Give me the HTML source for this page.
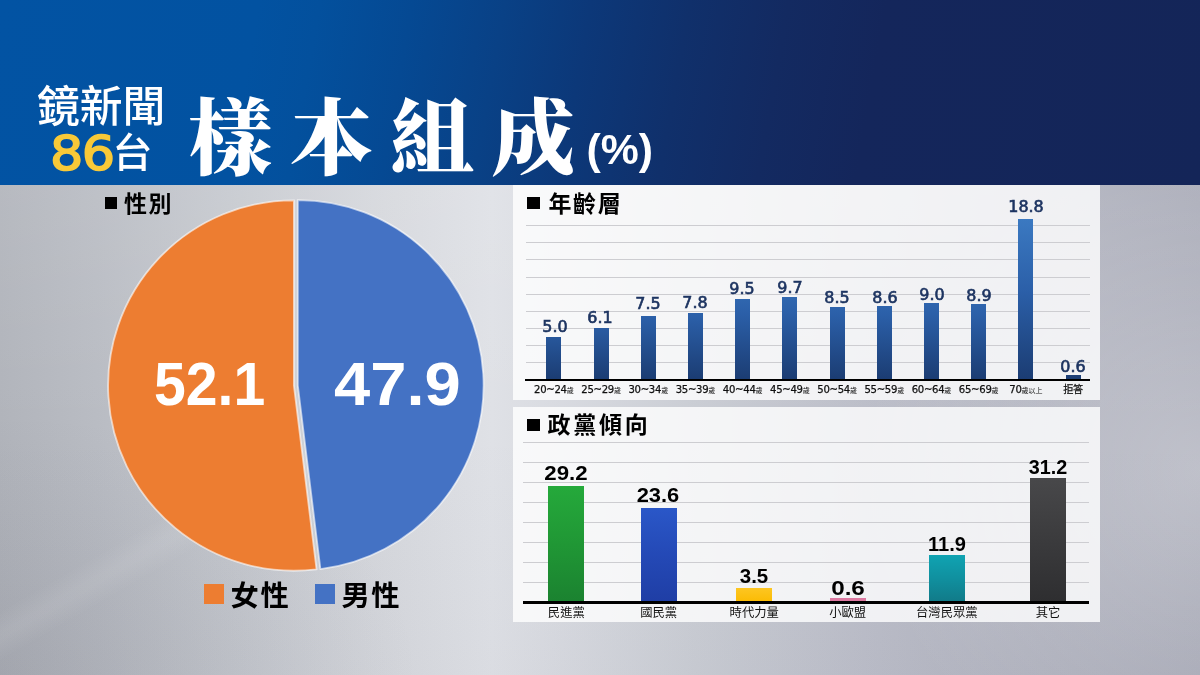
<!DOCTYPE html>
<html lang="zh-Hant">
<head>
<meta charset="utf-8">
<title>樣本組成</title>
<style>
*{margin:0;padding:0;box-sizing:border-box}
html,body{width:1200px;height:675px;overflow:hidden;background:#b4b7c4}
body{position:relative;font-family:"Liberation Sans","Noto Sans CJK TC",sans-serif;color:#000}
.abs{position:absolute}
#bg{left:0;top:0;width:1200px;height:675px;
 background:
  linear-gradient(150deg,rgba(255,255,255,0) 47.5%,rgba(255,255,255,.08) 52%,rgba(255,255,255,.08) 53.5%,rgba(255,255,255,0) 58%) 0 380px/330px 295px no-repeat,
  radial-gradient(ellipse 420px 260px at 0px 675px,rgba(90,92,105,.13) 0%,rgba(90,92,105,.05) 60%,rgba(90,92,105,0) 100%),
  radial-gradient(ellipse 340px 330px at 1200px 470px,rgba(255,255,255,.28) 0%,rgba(255,255,255,.13) 50%,rgba(255,255,255,0) 100%),
  linear-gradient(180deg,rgba(255,255,255,.08) 185px,rgba(255,255,255,0) 430px,rgba(70,72,95,.03) 675px),
  linear-gradient(90deg,#b1b4bb 0%,#b9bcc3 8%,#c7cad0 20%,#d6d8dd 32%,#dfe1e6 41%,#d9dbe1 46%,#cacdd4 58%,#bcbec9 72%,#afb1bd 88%,#a7a9b6 100%);}
#hdr{left:0;top:0;width:1200px;height:185px;background:linear-gradient(100deg,#0253a3 0%,#0252a1 21%,#03509d 26%,#054993 33.5%,#094186 41%,#0c3879 48%,#10306b 56%,#132a61 64%,#14265b 72%,#142558 100%);}
.logo1{left:37px;top:76.5px;font-size:42.8px;line-height:60px;color:#fff;font-weight:500;white-space:nowrap;font-family:"Liberation Sans","Noto Sans CJK TC",sans-serif}
.logo2{left:50.4px;top:123.9px;font-size:48.8px;line-height:60px;color:#f8c938;font-weight:400;white-space:nowrap;font-family:'DejaVu Sans',sans-serif;-webkit-text-stroke:1.6px #f8c938;transform:scaleX(1.075);transform-origin:0 0;letter-spacing:-1.5px}
.logo3{left:112.5px;top:123px;font-size:40px;line-height:60px;color:#fff;font-weight:500;white-space:nowrap;font-family:"Liberation Sans","Noto Sans CJK TC",sans-serif}
.title{left:188.6px;top:78px;font-size:83.5px;line-height:124px;color:#fff;font-weight:900;letter-spacing:17.5px;white-space:nowrap;font-family:"Liberation Serif","Noto Serif CJK SC",serif}
.pct{left:586.5px;top:120.6px;font-size:42.8px;line-height:56px;color:#fff;font-weight:700;white-space:nowrap}
.panel{background:rgba(255,255,255,.8)}
.sq{background:#000}
.h{font-family:"Liberation Sans","Noto Sans CJK TC",sans-serif;font-weight:700;font-size:23px;letter-spacing:1.6px;line-height:30px;white-space:nowrap;color:#000}
.gl{height:1.2px;background:#cdcdd1}
.bl{height:2px;background:#000}
.bar1{width:15px;background:linear-gradient(180deg,#3b79c1 0%,#2b5fa8 45%,#1b3c72 100%) bottom/100% 100% no-repeat}
.v1{font-family:'DejaVu Sans',sans-serif;font-size:15.2px;line-height:18px;font-weight:400;-webkit-text-stroke:0.6px #1d3461;color:#1d3461;transform:scaleX(1.05);text-align:center;width:60px;white-space:nowrap}
.x1{font-family:'DejaVu Sans','Liberation Sans','Noto Sans CJK TC',sans-serif;font-size:10.1px;line-height:12px;color:#111;-webkit-text-stroke:.25px #111;letter-spacing:-.3px;text-align:center;width:60px;white-space:nowrap}
.x1 small{font-size:7px;-webkit-text-stroke:0;letter-spacing:0;font-family:"Liberation Sans","Noto Sans CJK TC",sans-serif}
.v2{font-size:19.7px;line-height:22px;font-weight:700;color:#000;text-align:center;width:80px;white-space:nowrap;transform:scaleX(1.13)}
.x2{font-size:12.3px;line-height:16px;color:#111;text-align:center;width:100px;white-space:nowrap;font-family:"Liberation Sans","Noto Sans CJK TC",sans-serif}
.big{transform-origin:0 0;font-size:61.2px;line-height:70px;font-weight:700;color:#fff;white-space:nowrap}
.lg{font-family:"Liberation Sans","Noto Sans CJK TC",sans-serif;font-weight:700;font-size:28.3px;letter-spacing:1.6px;line-height:36px;white-space:nowrap;color:#000}
</style>
</head>
<body>
<div id="bg" class="abs"></div>
<div id="hdr" class="abs"></div>
<div class="abs logo1">鏡新聞</div>
<div class="abs logo2">86</div>
<div class="abs logo3">台</div>
<div class="abs title">樣本組成</div>
<div class="abs pct">(%)</div>

<!-- gender -->
<div class="abs sq" style="left:105px;top:197px;width:12px;height:12px"></div>
<div class="abs h" style="left:124px;top:188.5px">性別</div>
<svg class="abs" style="left:100px;top:190px" width="400" height="390" viewBox="100 190 400 390">
 <path d="M293.90,385.52 L316.55,569.34 A185.8,185.2 0 1 1 293.90,200.32 Z" fill="#ed7d31" stroke="#fff" stroke-opacity=".6" stroke-width="1.8"/>
 <path d="M297.80,385.28 L297.80,200.08 A185.8,185.2 0 0 1 320.44,569.10 Z" fill="#4472c4" stroke="#fff" stroke-opacity=".6" stroke-width="1.8"/>
</svg>
<div class="abs big" style="left:153.7px;top:348.9px;transform:scaleX(.934)">52.1</div>
<div class="abs big" style="left:334.3px;top:348.9px;transform:scaleX(1.064)">47.9</div>
<div class="abs" style="left:204px;top:584px;width:20px;height:20px;background:#ed7d31"></div>
<div class="abs lg" style="left:230.6px;top:577.8px">女性</div>
<div class="abs" style="left:315px;top:584px;width:20px;height:20px;background:#4472c4"></div>
<div class="abs lg" style="left:341.4px;top:577.8px">男性</div>

<!-- age -->
<div class="abs panel" style="left:512.7px;top:185px;width:587.7px;height:214.6px"></div>
<div class="abs sq" style="left:527px;top:197px;width:13px;height:12px"></div>
<div class="abs h" style="left:548.5px;top:189.1px">年齡層</div>
<div class="abs gl" style="left:526px;top:225.0px;width:564px"></div>
<div class="abs gl" style="left:526px;top:242.2px;width:564px"></div>
<div class="abs gl" style="left:526px;top:259.3px;width:564px"></div>
<div class="abs gl" style="left:526px;top:276.5px;width:564px"></div>
<div class="abs gl" style="left:526px;top:293.7px;width:564px"></div>
<div class="abs gl" style="left:526px;top:310.8px;width:564px"></div>
<div class="abs gl" style="left:526px;top:328.0px;width:564px"></div>
<div class="abs gl" style="left:526px;top:345.2px;width:564px"></div>
<div class="abs gl" style="left:526px;top:362.3px;width:564px"></div>
<div class="abs bar1" style="left:546.4px;top:337.1px;height:42.9px;background-size:100% 102.1px"></div>
<div class="abs v1" style="left:524.5px;top:318.2px">5.0</div>
<div class="abs x1" style="left:523.9px;top:383.5px">20~24<small>歲</small></div>
<div class="abs bar1" style="left:593.6px;top:327.7px;height:52.3px;background-size:100% 106.8px"></div>
<div class="abs v1" style="left:570.4px;top:309.3px">6.1</div>
<div class="abs x1" style="left:571.1px;top:383.5px">25~29<small>歲</small></div>
<div class="abs bar1" style="left:640.8px;top:315.6px;height:64.3px;background-size:100% 112.8px"></div>
<div class="abs v1" style="left:617.5px;top:294.6px">7.5</div>
<div class="abs x1" style="left:618.3px;top:383.5px">30~34<small>歲</small></div>
<div class="abs bar1" style="left:688.0px;top:313.1px;height:66.9px;background-size:100% 114.1px"></div>
<div class="abs v1" style="left:664.5px;top:294.2px">7.8</div>
<div class="abs x1" style="left:665.5px;top:383.5px">35~39<small>歲</small></div>
<div class="abs bar1" style="left:735.2px;top:298.5px;height:81.5px;background-size:100% 121.4px"></div>
<div class="abs v1" style="left:712.0px;top:280.1px">9.5</div>
<div class="abs x1" style="left:712.7px;top:383.5px">40~44<small>歲</small></div>
<div class="abs bar1" style="left:782.4px;top:296.8px;height:83.2px;background-size:100% 122.3px"></div>
<div class="abs v1" style="left:760.0px;top:279.2px">9.7</div>
<div class="abs x1" style="left:759.9px;top:383.5px">45~49<small>歲</small></div>
<div class="abs bar1" style="left:829.6px;top:307.1px;height:72.9px;background-size:100% 117.1px"></div>
<div class="abs v1" style="left:806.8px;top:289.2px">8.5</div>
<div class="abs x1" style="left:807.1px;top:383.5px">50~54<small>歲</small></div>
<div class="abs bar1" style="left:876.8px;top:306.2px;height:73.8px;background-size:100% 117.5px"></div>
<div class="abs v1" style="left:855.3px;top:289.2px">8.6</div>
<div class="abs x1" style="left:854.3px;top:383.5px">55~59<small>歲</small></div>
<div class="abs bar1" style="left:924.0px;top:302.8px;height:77.2px;background-size:100% 119.3px"></div>
<div class="abs v1" style="left:901.9px;top:285.9px">9.0</div>
<div class="abs x1" style="left:901.5px;top:383.5px">60~64<small>歲</small></div>
<div class="abs bar1" style="left:971.2px;top:303.6px;height:76.4px;background-size:100% 118.8px"></div>
<div class="abs v1" style="left:949.1px;top:287.2px">8.9</div>
<div class="abs x1" style="left:948.7px;top:383.5px">65~69<small>歲</small></div>
<div class="abs bar1" style="left:1018.4px;top:218.7px;height:161.3px;background-size:100% 161.3px"></div>
<div class="abs v1" style="left:995.5px;top:198.1px">18.8</div>
<div class="abs x1" style="left:995.9px;top:383.5px">70<small>歲以上</small></div>
<div class="abs bar1" style="left:1065.6px;top:374.9px;height:5.1px;background-size:100% 83.2px"></div>
<div class="abs v1" style="left:1043.2px;top:358.1px">0.6</div>
<div class="abs x1 cj" style="left:1043.1px;top:383.5px">拒答</div>
<div class="abs bl" style="left:525px;top:379.3px;width:565px;height:2.1px"></div>

<!-- party -->
<div class="abs panel" style="left:512.7px;top:407.3px;width:587.7px;height:214.5px"></div>
<div class="abs sq" style="left:527px;top:418.7px;width:13px;height:12.3px"></div>
<div class="abs h" style="left:547.6px;top:409.6px;letter-spacing:2.7px">政黨傾向</div>
<div class="abs gl" style="left:523px;top:442.0px;width:566px"></div>
<div class="abs gl" style="left:523px;top:461.9px;width:566px"></div>
<div class="abs gl" style="left:523px;top:481.9px;width:566px"></div>
<div class="abs gl" style="left:523px;top:501.9px;width:566px"></div>
<div class="abs gl" style="left:523px;top:521.8px;width:566px"></div>
<div class="abs gl" style="left:523px;top:541.8px;width:566px"></div>
<div class="abs gl" style="left:523px;top:561.7px;width:566px"></div>
<div class="abs gl" style="left:523px;top:581.6px;width:566px"></div>
<div class="abs" style="left:548.3px;top:485.7px;width:36px;height:116.5px;background:linear-gradient(180deg,#25a93b 0%,#209735 50%,#1b8230 100%)"></div>
<div class="abs v2" style="left:526.4px;top:461.7px;transform:scaleX(1.13)">29.2</div>
<div class="abs x2" style="left:516.3px;top:605px">民進黨</div>
<div class="abs" style="left:640.7px;top:508.0px;width:36px;height:94.2px;background:linear-gradient(180deg,#2a57c8 0%,#2449b6 50%,#1f3ea5 100%)"></div>
<div class="abs v2" style="left:618.1px;top:483.7px;transform:scaleX(1.11)">23.6</div>
<div class="abs x2" style="left:608.7px;top:605px">國民黨</div>
<div class="abs" style="left:736.2px;top:588.2px;width:36px;height:14.0px;background:linear-gradient(180deg,#fdc622 0%,#fbbb03 100%)"></div>
<div class="abs v2" style="left:713.9px;top:565.3px;transform:scaleX(1.04)">3.5</div>
<div class="abs x2" style="left:704.2px;top:605px">時代力量</div>
<div class="abs" style="left:829.6px;top:598.0px;width:36px;height:3.4px;background:#dc78a0"></div>
<div class="abs v2" style="left:807.5px;top:577.0px;transform:scaleX(1.23)">0.6</div>
<div class="abs x2" style="left:797.6px;top:605px">小歐盟</div>
<div class="abs" style="left:928.8px;top:554.7px;width:36px;height:47.5px;background:linear-gradient(180deg,#10a3b2 0%,#10909f 50%,#117a88 100%)"></div>
<div class="abs v2" style="left:906.7px;top:532.8px;transform:scaleX(1.02)">11.9</div>
<div class="abs x2" style="left:896.8px;top:605px">台灣民眾黨</div>
<div class="abs" style="left:1030.0px;top:477.7px;width:36px;height:124.5px;background:linear-gradient(180deg,#48484a 0%,#3b3b3d 50%,#2e2e30 100%)"></div>
<div class="abs v2" style="left:1007.7px;top:456.3px;transform:scaleX(1.005)">31.2</div>
<div class="abs x2" style="left:998.0px;top:605px">其它</div>
<div class="abs bl" style="left:523px;top:601.3px;width:565.5px;height:2.4px"></div>
</body>
</html>
